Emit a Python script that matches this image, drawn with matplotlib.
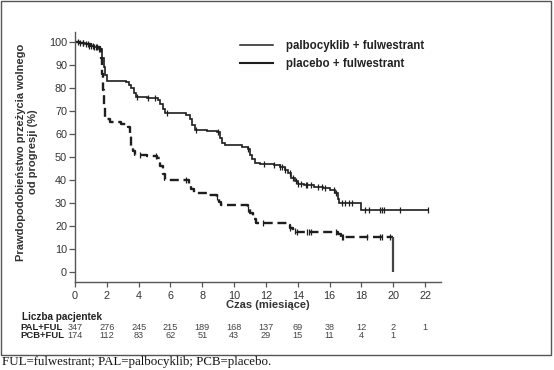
import numpy as np
import matplotlib
matplotlib.use("Agg")
import matplotlib.pyplot as plt
from matplotlib.lines import Line2D
from matplotlib.patches import Rectangle

# ---------------- data ----------------
pal_times = [0, 0.3, 0.6, 0.9, 1.2, 1.5, 1.7, 1.8, 1.9, 2.0, 2.8, 3.2, 3.4, 3.5, 3.7, 3.85,
             4.5, 5.2, 5.35, 5.5, 5.65, 7.0, 7.2, 7.35, 7.55, 8.3, 8.9, 9.1, 9.25, 9.45,
             10.5, 10.9, 11.0, 11.15, 11.3, 11.6, 12.5, 12.9, 13.2, 13.4, 13.6, 13.8, 14.0,
             14.4, 15.0, 15.6, 16.0, 16.35, 16.5, 16.6, 18.0]
pal_surv = [100, 99.5, 99, 98.5, 98, 97, 93, 89, 85.5, 83.2, 83, 82.5, 81.5, 80, 78, 76.2,
            75.8, 75, 73, 71, 69, 68.5, 66.5, 64, 62, 61.5, 61, 58.5, 56, 55.2,
            54.5, 53.5, 51, 49, 47.5, 47, 46.5, 45.5, 44.5, 43, 41, 39.5, 38.5,
            38, 37, 36.5, 35.5, 34.3, 32, 30, 27.2]
pal_censor = [0.3, 0.5, 0.7, 0.9, 1.0, 1.2, 1.3, 1.5, 3.9, 4.6, 5.0, 5.8, 7.6, 9.0, 10.9,
              11.9, 12.5, 12.9, 13.0, 13.2, 13.5, 13.7, 13.9, 14.0, 14.2, 14.5, 14.6, 14.8,
              15.3, 15.5, 15.7, 16.3, 16.4, 16.77, 16.98, 17.19, 17.4, 18.24, 18.45, 19.18,
              19.29, 19.4, 20.44, 22.16]

pcb_times = [0, 0.3, 0.7, 1.0, 1.3, 1.55, 1.65, 1.72, 1.78, 1.84, 1.9, 2.2, 2.9, 3.3, 3.45,
             3.55, 3.65, 3.8, 4.5, 5.15, 5.35, 5.5, 5.65, 7.15, 7.3, 7.45, 8.3, 8.9, 9.05,
             9.15, 10.85, 11.0, 11.2, 11.35, 13.3, 13.5, 13.7, 13.9, 16.5, 16.7]
pcb_surv = [100, 99.5, 99, 98.5, 98, 97, 93, 86, 79, 72, 66.5, 65.2, 64.2, 63.2, 59,
            55, 52.5, 51, 50.3, 49.5, 46, 42.5, 40, 38, 36, 34.2, 33.5, 32.8, 30.5,
            29, 27.5, 25.5, 23, 21.2, 20.5, 19, 18, 17.3, 16.5, 15.4]
pcb_censor = [0.2, 0.5, 0.8, 1.1, 1.4, 4.1, 5.1, 7.0, 8.9, 10.9, 11.8, 13.5, 13.8, 13.95,
              14.6, 14.7, 14.8, 16.4, 16.75, 16.85, 18.35, 19.14, 19.29, 19.77]
pcb_end = 20.0

risk_times = [0, 2, 4, 6, 8, 10, 12, 14, 16, 18, 20, 22]
pal_risk = [347, 276, 245, 215, 189, 168, 137, 69, 38, 12, 2, 1]
pcb_risk = [174, 112, 83, 62, 51, 43, 29, 15, 11, 4, 1]

series_labels = ["palbocyklib + fulwestrant", "placebo + fulwestrant"]
risk_labels = ["PAL+FUL", "PCB+FUL"]
x_ticks = list(range(0, 23, 2))
y_ticks = list(range(0, 101, 10))

# ---------------- figure ----------------
W, H = 554, 370
fig = plt.figure(figsize=(W / 100, H / 100), dpi=100)
plt.rcParams['font.family'] = ['Liberation Sans', 'DejaVu Sans']

ax_l, ax_r, ax_t, ax_b = 75, 441, 32, 282
ax = fig.add_axes([ax_l / W, 1 - ax_b / H, (ax_r - ax_l) / W, (ax_b - ax_t) / H])
ax.set_xlim(0, 23.0)
ax.set_ylim(-4.3, 104.4)

ink = "#1e1e1e"


def surv_at(times, surv, t):
    i = np.searchsorted(np.asarray(times), np.asarray(t), side="right") - 1
    return np.asarray(surv)[i]


# PAL solid
pt = pal_times + [max(pal_censor)]
ps = pal_surv + [pal_surv[-1]]
ax.step(pt, ps, where="post", color=ink, lw=1.2, solid_joinstyle="miter")
ax.plot(pal_censor, surv_at(pal_times, pal_surv, pal_censor), ls="none", marker="|",
        ms=5, mew=0.9, color=ink)

# PCB dashed
qt = pcb_times + [pcb_end]
qs = pcb_surv + [pcb_surv[-1]]
ax.step(qt, qs, where="post", color=ink, lw=1.7, ls=(0, (3.8, 2)))
ax.plot(pcb_censor, surv_at(pcb_times, pcb_surv, pcb_censor), ls="none", marker="|",
        ms=5, mew=0.9, color=ink)
ax.vlines(pcb_end, 0, pcb_surv[-1], color="#444444", lw=1.6)

# axes styling
for s in ["top", "right"]:
    ax.spines[s].set_visible(False)
for s in ["left", "bottom"]:
    ax.spines[s].set_color("#555555")
    ax.spines[s].set_linewidth(1.0)
ax.set_xticks(x_ticks)
ax.set_yticks(y_ticks)
ax.tick_params(axis="x", labelsize=7.8, colors="#555555", labelcolor="#333333",
               length=3.5, width=0.9, pad=3)
ax.tick_params(axis="y", labelsize=7.8, colors="#555555", labelcolor="#333333",
               length=4.5, width=0.9, pad=1.2)

# y label
fig.text(27 / W, 1 - 152 / H, "Prawdopodobieństwo przeżycia wolnego\nod progresji (%)",
         rotation=90, ha="center", va="center", fontsize=8, fontweight="bold",
         color="#333333", linespacing=1.3, multialignment="center")

# x label
fig.text(268 / W, 1 - 305 / H, "Czas (miesiące)", ha="center", va="center",
         fontsize=8, fontweight="bold", color="#333333")

# legend
handles = [Line2D([], [], color=ink, lw=1.1), Line2D([], [], color=ink, lw=1.5)]
fig.legend(handles, series_labels, loc="upper left",
           bbox_to_anchor=(240 / W, 1 - 40 / H), bbox_transform=fig.transFigure,
           frameon=False, borderpad=0, borderaxespad=0, handlelength=2.85,
           handletextpad=1.15, labelspacing=0.5,
           prop={"size": 8.3, "weight": "bold"}, labelcolor="#222222")

# number at risk
fig.text(22 / W, 1 - 317 / H, "Liczba pacjentek", ha="left", va="center",
         fontsize=7.2, fontweight="bold", color="#222222")
row_y = [328, 336]
for lab, vals, yy in zip(risk_labels, [pal_risk, pcb_risk], row_y):
    fig.text(20 / W, 1 - yy / H, lab, ha="left", va="center", fontsize=6.8,
             fontweight="bold", color="#222222")
    for t, v in zip(risk_times, vals):
        xf = fig.transFigure.inverted().transform(ax.transData.transform((t, 0)))[0]
        fig.text(xf, 1 - yy / H, str(v), ha="center", va="center", fontsize=6.6,
                 color="#444444")

# border
fig.patches.append(Rectangle((1 / W, 1 - 355 / H), 550 / W, 354 / H,
                             transform=fig.transFigure, fill=False,
                             edgecolor="#555555", lw=1.0))

# caption
fig.text(2 / W, 1 - 362 / H, "FUL=fulwestrant; PAL=palbocyklib; PCB=placebo.",
         ha="left", va="center", fontsize=9.3, family="Liberation Serif", color="#111111")

fig.savefig("out.png", dpi=100)
